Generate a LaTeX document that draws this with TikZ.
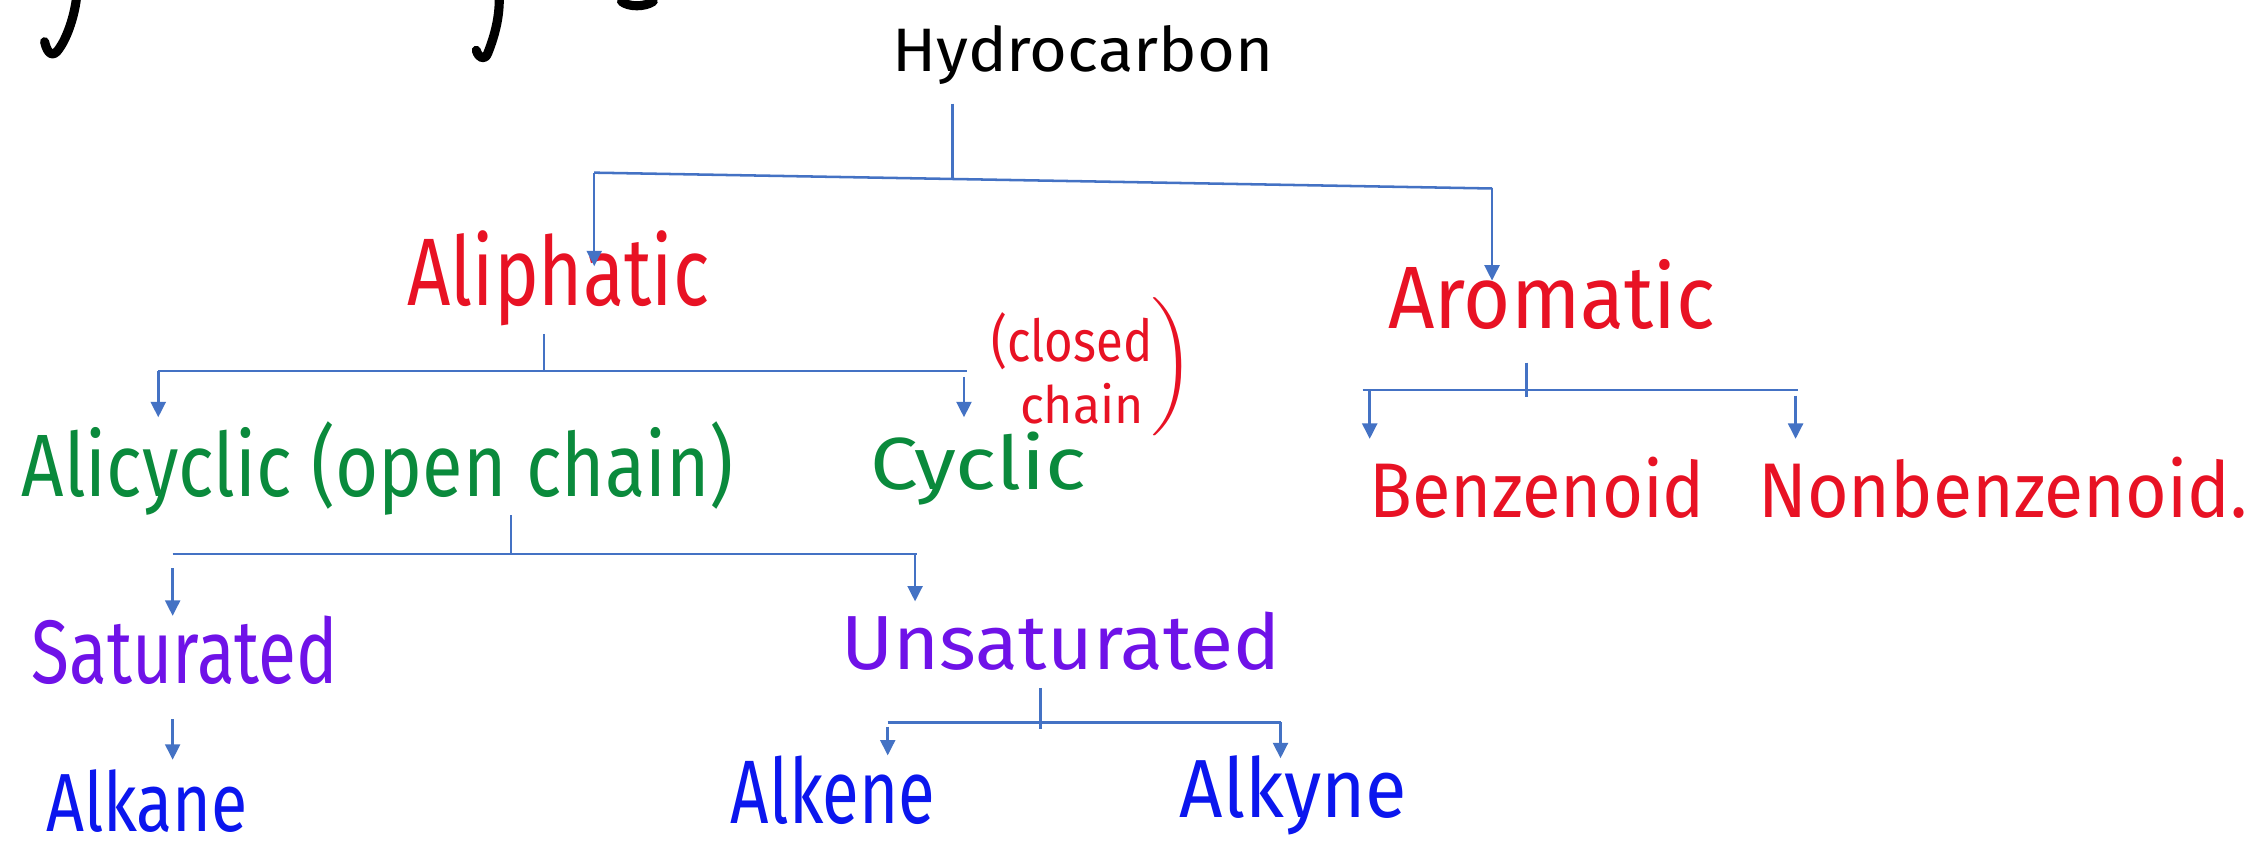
\documentclass[tikz,border=0pt]{standalone}
\usepackage{fontspec}
\setmainfont{Fira Sans}
\usetikzlibrary{arrows.meta}
\newdimen\pxu \pxu=0.15mm
% word of given width and height (above the baseline), in picture units
\newcommand\hw[3]{\resizebox{#1\pxu}{#2\pxu}{#3}}
\definecolor{linkblue}{HTML}{4472C4}
\definecolor{inkred}{HTML}{E81224}
\definecolor{inkgreen}{HTML}{0A8A3C}
\definecolor{inkpurple}{HTML}{6F12E8}
\definecolor{inkblue}{HTML}{0B16EE}
\begin{document}
\begin{tikzpicture}[x=0.15mm,y=-0.15mm,
  word/.style={inner sep=0pt, outer sep=0pt, anchor=base west},
  link/.style={draw=linkblue, line width=0.75pt},
  arr/.style={link, -{Triangle[length=1.6mm,width=1.55mm]}},
  pen/.style={draw=black, line width=0.95mm, line cap=round, line join=round}]
\useasboundingbox (0,0) rectangle (1568,598);
\fill[white] (0,0) rectangle (1568,598);

% strokes of a heading cut by the top edge
\draw[pen] (53,0) .. controls (51,14) and (46,27) .. (41,34) .. controls (37,40) and (33,38) .. (31,29);
\draw[pen] (347,0) .. controls (347,14) and (343,27) .. (339,37) .. controls (337,42) and (333,41) .. (331,35);
\draw[pen] (432,1) .. controls (437,5) and (448,5) .. (454,1);

% labels
\node[word, text=black] (hc) at (620,50) {\hw{265}{32}{Hydrocarbon}};
\node[word, text=inkred] (ali) at (283,212) {\hw{210}{52}{Aliphatic}};
\node[word, text=inkred] (aro) at (965,228) {\hw{227}{48}{Aromatic}};
\node[word, text=inkred] (cl1) at (689,251) {\hw{112}{34}{(closed}};
\node[word, text=inkred] (cl2) at (709,294) {\hw{86}{28}{chain}};
\node[inner sep=0pt, outer sep=0pt, anchor=north west, text=inkred] (cl3) at (800,207)
  {\resizebox*{30\pxu}{96\pxu}{$\Biggr)$}};
\node[word, text=inkgreen] (acy) at (15,345) {\hw{495}{52}{Alicyclic (open chain)}};
\node[word, text=inkgreen] (cyc) at (605,340) {\hw{150}{40}{Cyclic}};
\node[word, text=inkred] (ben) at (952,360) {\hw{233}{42}{Benzenoid}};
\node[word, text=inkred] (nben) at (1222,360) {\hw{340}{42}{Nonbenzenoid.}};
\node[word, text=inkpurple] (sat) at (22,475) {\hw{213}{47}{Saturated}};
\node[word, text=inkpurple] (uns) at (585,465) {\hw{305}{40}{Unsaturated}};
\node[word, text=inkblue] (ane) at (32,578) {\hw{140}{43}{Alkane}};
\node[word, text=inkblue] (ene) at (508,572) {\hw{142}{47}{Alkene}};
\node[word, text=inkblue] (yne) at (820,568) {\hw{158}{43}{Alkyne}};

% connector points
\coordinate (hc-s) at (662,72);
\coordinate (j0) at (662,124);
\coordinate (j0l) at (413,120);
\coordinate (j0r) at (1037,131);
\coordinate (ali-in) at (413,185);
\coordinate (aro-in) at (1037,195);

\coordinate (ali-s) at (378,232);
\coordinate (j1) at (378,258);
\coordinate (j1l) at (110,258);
\coordinate (j1r) at (672,258);
\coordinate (acy-in) at (110,290);
\coordinate (cyc-top) at (670,262);
\coordinate (cyc-in) at (670,290);

\coordinate (aro-s) at (1061,252);
\coordinate (j2) at (1061,276);
\coordinate (j2l) at (947,271);
\coordinate (j2r) at (1250,271);
\coordinate (ben-top) at (952,271);
\coordinate (ben-in) at (952,305);
\coordinate (nben-top) at (1248,275);
\coordinate (nben-in) at (1248,305);

\coordinate (acy-s) at (355,358);
\coordinate (j3) at (355,385);
\coordinate (j3l) at (120,385);
\coordinate (j3r) at (637,385);
\coordinate (sat-top) at (120,395);
\coordinate (sat-in) at (120,428);
\coordinate (uns-top) at (636,385);
\coordinate (uns-in) at (636,418);

\coordinate (sat-s) at (120,500);
\coordinate (ane-in) at (120,528);

\coordinate (uns-s) at (723,478);
\coordinate (j4) at (723,507);
\coordinate (j4l) at (617,502);
\coordinate (j4r) at (890,502);
\coordinate (ene-top) at (617,505);
\coordinate (ene-in) at (617,525);
\coordinate (yne-in) at (890,527);

% connectors
\draw[link] (hc-s) -- (j0);
\draw[link] (j0l) -- (j0r);
\draw[arr] (j0l) -- (ali-in);
\draw[arr] (j0r) -- (aro-in);

\draw[link] (ali-s) -- (j1);
\draw[link] (j1l) -- (j1r);
\draw[arr] (j1l) -- (acy-in);
\draw[arr] (cyc-top) -- (cyc-in);

\draw[link] (aro-s) -- (j2);
\draw[link] (j2l) -- (j2r);
\draw[arr] (ben-top) -- (ben-in);
\draw[arr] (nben-top) -- (nben-in);

\draw[link] (acy-s) -- (j3);
\draw[link] (j3l) -- (j3r);
\draw[arr] (sat-top) -- (sat-in);
\draw[arr] (uns-top) -- (uns-in);

\draw[arr] (sat-s) -- (ane-in);

\draw[link] (uns-s) -- (j4);
\draw[link] (j4l) -- (j4r);
\draw[arr] (ene-top) -- (ene-in);
\draw[arr] (j4r) -- (yne-in);
\end{tikzpicture}
\end{document}
